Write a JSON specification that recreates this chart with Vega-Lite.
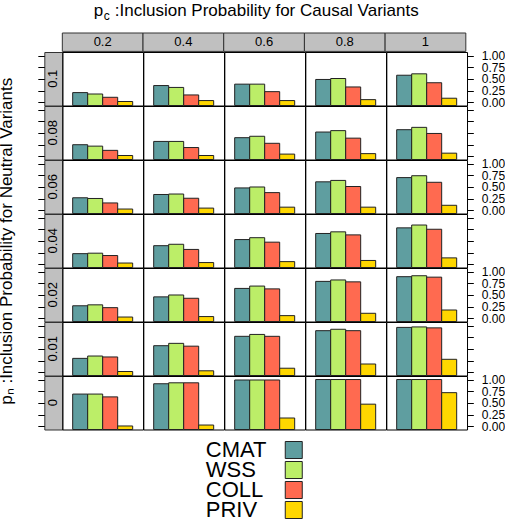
{
"$schema": "https://vega.github.io/schema/vega-lite/v6.json",
"padding": {"left": -4, "top": 2, "right": 0, "bottom": 0},
"datasets": {
"bars": [
{"pn":"0.1","pc":"0.2","m":"CMAT","v":0.21},{"pn":"0.1","pc":"0.2","m":"WSS","v":0.18},{"pn":"0.1","pc":"0.2","m":"COLL","v":0.11},{"pn":"0.1","pc":"0.2","m":"PRIV","v":0.02},
{"pn":"0.1","pc":"0.4","m":"CMAT","v":0.36},{"pn":"0.1","pc":"0.4","m":"WSS","v":0.32},{"pn":"0.1","pc":"0.4","m":"COLL","v":0.16},{"pn":"0.1","pc":"0.4","m":"PRIV","v":0.04},
{"pn":"0.1","pc":"0.6","m":"CMAT","v":0.39},{"pn":"0.1","pc":"0.6","m":"WSS","v":0.39},{"pn":"0.1","pc":"0.6","m":"COLL","v":0.23},{"pn":"0.1","pc":"0.6","m":"PRIV","v":0.04},
{"pn":"0.1","pc":"0.8","m":"CMAT","v":0.49},{"pn":"0.1","pc":"0.8","m":"WSS","v":0.51},{"pn":"0.1","pc":"0.8","m":"COLL","v":0.33},{"pn":"0.1","pc":"0.8","m":"PRIV","v":0.06},
{"pn":"0.1","pc":"1","m":"CMAT","v":0.58},{"pn":"0.1","pc":"1","m":"WSS","v":0.61},{"pn":"0.1","pc":"1","m":"COLL","v":0.42},{"pn":"0.1","pc":"1","m":"PRIV","v":0.09},
{"pn":"0.08","pc":"0.2","m":"CMAT","v":0.25},{"pn":"0.08","pc":"0.2","m":"WSS","v":0.22},{"pn":"0.08","pc":"0.2","m":"COLL","v":0.13},{"pn":"0.08","pc":"0.2","m":"PRIV","v":0.02},
{"pn":"0.08","pc":"0.4","m":"CMAT","v":0.32},{"pn":"0.08","pc":"0.4","m":"WSS","v":0.32},{"pn":"0.08","pc":"0.4","m":"COLL","v":0.19},{"pn":"0.08","pc":"0.4","m":"PRIV","v":0.02},
{"pn":"0.08","pc":"0.6","m":"CMAT","v":0.40},{"pn":"0.08","pc":"0.6","m":"WSS","v":0.43},{"pn":"0.08","pc":"0.6","m":"COLL","v":0.28},{"pn":"0.08","pc":"0.6","m":"PRIV","v":0.05},
{"pn":"0.08","pc":"0.8","m":"CMAT","v":0.52},{"pn":"0.08","pc":"0.8","m":"WSS","v":0.55},{"pn":"0.08","pc":"0.8","m":"COLL","v":0.39},{"pn":"0.08","pc":"0.8","m":"PRIV","v":0.06},
{"pn":"0.08","pc":"1","m":"CMAT","v":0.57},{"pn":"0.08","pc":"1","m":"WSS","v":0.62},{"pn":"0.08","pc":"1","m":"COLL","v":0.49},{"pn":"0.08","pc":"1","m":"PRIV","v":0.07},
{"pn":"0.06","pc":"0.2","m":"CMAT","v":0.27},{"pn":"0.06","pc":"0.2","m":"WSS","v":0.255},{"pn":"0.06","pc":"0.2","m":"COLL","v":0.16},{"pn":"0.06","pc":"0.2","m":"PRIV","v":0.03},
{"pn":"0.06","pc":"0.4","m":"CMAT","v":0.34},{"pn":"0.06","pc":"0.4","m":"WSS","v":0.35},{"pn":"0.06","pc":"0.4","m":"COLL","v":0.26},{"pn":"0.06","pc":"0.4","m":"PRIV","v":0.05},
{"pn":"0.06","pc":"0.6","m":"CMAT","v":0.48},{"pn":"0.06","pc":"0.6","m":"WSS","v":0.50},{"pn":"0.06","pc":"0.6","m":"COLL","v":0.38},{"pn":"0.06","pc":"0.6","m":"PRIV","v":0.07},
{"pn":"0.06","pc":"0.8","m":"CMAT","v":0.61},{"pn":"0.06","pc":"0.8","m":"WSS","v":0.64},{"pn":"0.06","pc":"0.8","m":"COLL","v":0.51},{"pn":"0.06","pc":"0.8","m":"PRIV","v":0.07},
{"pn":"0.06","pc":"1","m":"CMAT","v":0.70},{"pn":"0.06","pc":"1","m":"WSS","v":0.74},{"pn":"0.06","pc":"1","m":"COLL","v":0.60},{"pn":"0.06","pc":"1","m":"PRIV","v":0.11},
{"pn":"0.04","pc":"0.2","m":"CMAT","v":0.23},{"pn":"0.04","pc":"0.2","m":"WSS","v":0.24},{"pn":"0.04","pc":"0.2","m":"COLL","v":0.19},{"pn":"0.04","pc":"0.2","m":"PRIV","v":0.03},
{"pn":"0.04","pc":"0.4","m":"CMAT","v":0.40},{"pn":"0.04","pc":"0.4","m":"WSS","v":0.43},{"pn":"0.04","pc":"0.4","m":"COLL","v":0.32},{"pn":"0.04","pc":"0.4","m":"PRIV","v":0.04},
{"pn":"0.04","pc":"0.6","m":"CMAT","v":0.53},{"pn":"0.04","pc":"0.6","m":"WSS","v":0.57},{"pn":"0.04","pc":"0.6","m":"COLL","v":0.475},{"pn":"0.04","pc":"0.6","m":"PRIV","v":0.06},
{"pn":"0.04","pc":"0.8","m":"CMAT","v":0.66},{"pn":"0.04","pc":"0.8","m":"WSS","v":0.695},{"pn":"0.04","pc":"0.8","m":"COLL","v":0.63},{"pn":"0.04","pc":"0.8","m":"PRIV","v":0.085},
{"pn":"0.04","pc":"1","m":"CMAT","v":0.78},{"pn":"0.04","pc":"1","m":"WSS","v":0.84},{"pn":"0.04","pc":"1","m":"COLL","v":0.75},{"pn":"0.04","pc":"1","m":"PRIV","v":0.14},
{"pn":"0.02","pc":"0.2","m":"CMAT","v":0.27},{"pn":"0.02","pc":"0.2","m":"WSS","v":0.29},{"pn":"0.02","pc":"0.2","m":"COLL","v":0.23},{"pn":"0.02","pc":"0.2","m":"PRIV","v":0.03},
{"pn":"0.02","pc":"0.4","m":"CMAT","v":0.46},{"pn":"0.02","pc":"0.4","m":"WSS","v":0.50},{"pn":"0.02","pc":"0.4","m":"COLL","v":0.43},{"pn":"0.02","pc":"0.4","m":"PRIV","v":0.04},
{"pn":"0.02","pc":"0.6","m":"CMAT","v":0.64},{"pn":"0.02","pc":"0.6","m":"WSS","v":0.69},{"pn":"0.02","pc":"0.6","m":"COLL","v":0.63},{"pn":"0.02","pc":"0.6","m":"PRIV","v":0.06},
{"pn":"0.02","pc":"0.8","m":"CMAT","v":0.79},{"pn":"0.02","pc":"0.8","m":"WSS","v":0.82},{"pn":"0.02","pc":"0.8","m":"COLL","v":0.78},{"pn":"0.02","pc":"0.8","m":"PRIV","v":0.11},
{"pn":"0.02","pc":"1","m":"CMAT","v":0.89},{"pn":"0.02","pc":"1","m":"WSS","v":0.91},{"pn":"0.02","pc":"1","m":"COLL","v":0.88},{"pn":"0.02","pc":"1","m":"PRIV","v":0.18},
{"pn":"0.01","pc":"0.2","m":"CMAT","v":0.30},{"pn":"0.01","pc":"0.2","m":"WSS","v":0.35},{"pn":"0.01","pc":"0.2","m":"COLL","v":0.33},{"pn":"0.01","pc":"0.2","m":"PRIV","v":0.02},
{"pn":"0.01","pc":"0.4","m":"CMAT","v":0.57},{"pn":"0.01","pc":"0.4","m":"WSS","v":0.62},{"pn":"0.01","pc":"0.4","m":"COLL","v":0.56},{"pn":"0.01","pc":"0.4","m":"PRIV","v":0.035},
{"pn":"0.01","pc":"0.6","m":"CMAT","v":0.77},{"pn":"0.01","pc":"0.6","m":"WSS","v":0.81},{"pn":"0.01","pc":"0.6","m":"COLL","v":0.77},{"pn":"0.01","pc":"0.6","m":"PRIV","v":0.09},
{"pn":"0.01","pc":"0.8","m":"CMAT","v":0.89},{"pn":"0.01","pc":"0.8","m":"WSS","v":0.92},{"pn":"0.01","pc":"0.8","m":"COLL","v":0.89},{"pn":"0.01","pc":"0.8","m":"PRIV","v":0.18},
{"pn":"0.01","pc":"1","m":"CMAT","v":0.96},{"pn":"0.01","pc":"1","m":"WSS","v":0.97},{"pn":"0.01","pc":"1","m":"COLL","v":0.95},{"pn":"0.01","pc":"1","m":"PRIV","v":0.28},
{"pn":"0","pc":"0.2","m":"CMAT","v":0.69},{"pn":"0","pc":"0.2","m":"WSS","v":0.69},{"pn":"0","pc":"0.2","m":"COLL","v":0.63},{"pn":"0","pc":"0.2","m":"PRIV","v":0.01},
{"pn":"0","pc":"0.4","m":"CMAT","v":0.91},{"pn":"0","pc":"0.4","m":"WSS","v":0.93},{"pn":"0","pc":"0.4","m":"COLL","v":0.93},{"pn":"0","pc":"0.4","m":"PRIV","v":0.03},
{"pn":"0","pc":"0.6","m":"CMAT","v":0.99},{"pn":"0","pc":"0.6","m":"WSS","v":0.99},{"pn":"0","pc":"0.6","m":"COLL","v":0.99},{"pn":"0","pc":"0.6","m":"PRIV","v":0.18},
{"pn":"0","pc":"0.8","m":"CMAT","v":1.0},{"pn":"0","pc":"0.8","m":"WSS","v":1.0},{"pn":"0","pc":"0.8","m":"COLL","v":1.0},{"pn":"0","pc":"0.8","m":"PRIV","v":0.475},
{"pn":"0","pc":"1","m":"CMAT","v":1.0},{"pn":"0","pc":"1","m":"WSS","v":1.0},{"pn":"0","pc":"1","m":"COLL","v":1.0},{"pn":"0","pc":"1","m":"PRIV","v":0.72}
]
},
"vconcat": [
{
"columns": 2,
"spacing": 0,
"bounds": "flush",
"align": "each",
"concat": [
{"data": {"values": [{"t": ""}]}, "width": 18, "height": 18.4, "view": {"stroke": null}, "mark": {"type": "text"}, "encoding": {"text": {"field": "t"}}},
{"data": {"values": [{"pc":"0.2"},{"pc":"0.4"},{"pc":"0.6"},{"pc":"0.8"},{"pc":"1"}]},
 "width": 403.5, "height": 18.4, "view": {"stroke": null},
 "encoding": {"x": {"field": "pc", "type": "ordinal", "sort": ["0.2","0.4","0.6","0.8","1"], "scale": {"paddingInner": 0, "paddingOuter": 0}, "axis": null}},
 "layer": [
  {"mark": {"type": "rect", "fill": "#c0c0c0", "stroke": "#333333", "strokeWidth": 1}},
  {"mark": {"type": "text", "fontSize": 13, "baseline": "middle"}, "encoding": {"text": {"field": "pc"}}},
  {"data": {"values": [{"t": "p"}]}, "mark": {"type": "text", "fontSize": 17, "align": "left", "baseline": "alphabetic", "dx": -170.3, "dy": -26}, "encoding": {"x": {"datum": "0.6"}, "text": {"field": "t"}}},
  {"data": {"values": [{"t": "c"}]}, "mark": {"type": "text", "fontSize": 12, "align": "left", "baseline": "alphabetic", "dx": -160.3, "dy": -22}, "encoding": {"x": {"datum": "0.6"}, "text": {"field": "t"}}},
  {"data": {"values": [{"t": ":Inclusion Probability for Causal Variants"}]}, "mark": {"type": "text", "fontSize": 17, "align": "left", "baseline": "alphabetic", "dx": -149.3, "dy": -26}, "encoding": {"x": {"datum": "0.6"}, "text": {"field": "t"}}}
 ]
},
{"data": {"values": [{"pn": "0.1"}]}, "width": 18, "height": 53.5, "view": {"fill": "#c0c0c0", "stroke": "#333333"},
 "mark": {"type": "text", "angle": 270, "fontSize": 13, "baseline": "middle"},
 "encoding": {"text": {"field": "pn"}, "y": {"datum": 0.505, "type": "quantitative", "scale": {"domain": [-0.065, 1.075], "nice": false, "zero": false}, "axis": {"orient": "left", "values": [0, 0.25, 0.5, 0.75, 1], "labels": false, "tickSize": 6.5, "title": null}}}},
{"data": {"name": "bars"}, "transform": [{"filter": "datum.pn === '0.1'"}],
 "facet": {"column": {"field": "pc", "type": "ordinal", "sort": ["0.2","0.4","0.6","0.8","1"], "header": null}}, "spacing": 0, "bounds": "flush",
 "spec": {"width": 80.7, "height": 53.5, "mark": {"type": "bar", "stroke": "#222222", "strokeWidth": 1},
  "encoding": {"x": {"field": "m", "type": "nominal", "sort": ["CMAT","WSS","COLL","PRIV"], "scale": {"paddingInner": 0, "paddingOuter": 0.69}, "axis": null},
   "y": {"field": "v", "type": "quantitative", "scale": {"domain": [-0.065, 1.075], "nice": false, "zero": false}, "axis": {"orient": "right", "values": [0, 0.25, 0.5, 0.75, 1], "format": ".2f", "tickSize": 6, "labelPadding": 8, "labelFontSize": 12, "labelOverlap": false, "title": null}},
   "y2": {"datum": -0.065},
   "color": {"field": "m", "type": "nominal", "scale": {"domain": ["CMAT","WSS","COLL","PRIV"], "range": ["#5F9EA0","#BCEE68","#FF6A50","#FFD700"]}, "legend": null}}}},
{"data": {"values": [{"pn": "0.08"}]}, "width": 18, "height": 53.5, "view": {"fill": "#c0c0c0", "stroke": "#333333"},
 "mark": {"type": "text", "angle": 270, "fontSize": 13, "baseline": "middle"},
 "encoding": {"text": {"field": "pn"}, "y": {"datum": 0.505, "type": "quantitative", "scale": {"domain": [-0.065, 1.075], "nice": false, "zero": false}, "axis": {"orient": "left", "values": [0, 0.25, 0.5, 0.75, 1], "labels": false, "tickSize": 6.5, "title": null}}}},
{"data": {"name": "bars"}, "transform": [{"filter": "datum.pn === '0.08'"}],
 "facet": {"column": {"field": "pc", "type": "ordinal", "sort": ["0.2","0.4","0.6","0.8","1"], "header": null}}, "spacing": 0, "bounds": "flush",
 "spec": {"width": 80.7, "height": 53.5, "mark": {"type": "bar", "stroke": "#222222", "strokeWidth": 1},
  "encoding": {"x": {"field": "m", "type": "nominal", "sort": ["CMAT","WSS","COLL","PRIV"], "scale": {"paddingInner": 0, "paddingOuter": 0.69}, "axis": null},
   "y": {"field": "v", "type": "quantitative", "scale": {"domain": [-0.065, 1.075], "nice": false, "zero": false}, "axis": {"orient": "right", "values": [0, 0.25, 0.5, 0.75, 1], "labels": false, "tickSize": 6, "title": null}},
   "y2": {"datum": -0.065},
   "color": {"field": "m", "type": "nominal", "scale": {"domain": ["CMAT","WSS","COLL","PRIV"], "range": ["#5F9EA0","#BCEE68","#FF6A50","#FFD700"]}, "legend": null}}}},
{"data": {"values": [{"pn": "0.06"}]}, "width": 18, "height": 53.5, "view": {"fill": "#c0c0c0", "stroke": "#333333"},
 "mark": {"type": "text", "angle": 270, "fontSize": 13, "baseline": "middle"},
 "encoding": {"text": {"field": "pn"}, "y": {"datum": 0.505, "type": "quantitative", "scale": {"domain": [-0.065, 1.075], "nice": false, "zero": false}, "axis": {"orient": "left", "values": [0, 0.25, 0.5, 0.75, 1], "labels": false, "tickSize": 6.5, "title": null}}}},
{"data": {"name": "bars"}, "transform": [{"filter": "datum.pn === '0.06'"}],
 "facet": {"column": {"field": "pc", "type": "ordinal", "sort": ["0.2","0.4","0.6","0.8","1"], "header": null}}, "spacing": 0, "bounds": "flush",
 "spec": {"width": 80.7, "height": 53.5, "mark": {"type": "bar", "stroke": "#222222", "strokeWidth": 1},
  "encoding": {"x": {"field": "m", "type": "nominal", "sort": ["CMAT","WSS","COLL","PRIV"], "scale": {"paddingInner": 0, "paddingOuter": 0.69}, "axis": null},
   "y": {"field": "v", "type": "quantitative", "scale": {"domain": [-0.065, 1.075], "nice": false, "zero": false}, "axis": {"orient": "right", "values": [0, 0.25, 0.5, 0.75, 1], "format": ".2f", "tickSize": 6, "labelPadding": 8, "labelFontSize": 12, "labelOverlap": false, "title": null}},
   "y2": {"datum": -0.065},
   "color": {"field": "m", "type": "nominal", "scale": {"domain": ["CMAT","WSS","COLL","PRIV"], "range": ["#5F9EA0","#BCEE68","#FF6A50","#FFD700"]}, "legend": null}}}},
{"data": {"values": [{"pn": "0.04"}]}, "width": 18, "height": 53.5, "view": {"fill": "#c0c0c0", "stroke": "#333333"},
 "mark": {"type": "text", "angle": 270, "fontSize": 13, "baseline": "middle"},
 "encoding": {"text": {"field": "pn"}, "y": {"datum": 0.505, "type": "quantitative", "scale": {"domain": [-0.065, 1.075], "nice": false, "zero": false}, "axis": {"orient": "left", "values": [0, 0.25, 0.5, 0.75, 1], "labels": false, "tickSize": 6.5, "title": "pₙ :Inclusion Probability for Neutral Variants", "titleFontSize": 17, "titleFontWeight": "normal", "titlePadding": 22, "titleLimit": 1000, "titleColor": "black"}}}},
{"data": {"name": "bars"}, "transform": [{"filter": "datum.pn === '0.04'"}],
 "facet": {"column": {"field": "pc", "type": "ordinal", "sort": ["0.2","0.4","0.6","0.8","1"], "header": null}}, "spacing": 0, "bounds": "flush",
 "spec": {"width": 80.7, "height": 53.5, "mark": {"type": "bar", "stroke": "#222222", "strokeWidth": 1},
  "encoding": {"x": {"field": "m", "type": "nominal", "sort": ["CMAT","WSS","COLL","PRIV"], "scale": {"paddingInner": 0, "paddingOuter": 0.69}, "axis": null},
   "y": {"field": "v", "type": "quantitative", "scale": {"domain": [-0.065, 1.075], "nice": false, "zero": false}, "axis": {"orient": "right", "values": [0, 0.25, 0.5, 0.75, 1], "labels": false, "tickSize": 6, "title": null}},
   "y2": {"datum": -0.065},
   "color": {"field": "m", "type": "nominal", "scale": {"domain": ["CMAT","WSS","COLL","PRIV"], "range": ["#5F9EA0","#BCEE68","#FF6A50","#FFD700"]}, "legend": null}}}},
{"data": {"values": [{"pn": "0.02"}]}, "width": 18, "height": 53.5, "view": {"fill": "#c0c0c0", "stroke": "#333333"},
 "mark": {"type": "text", "angle": 270, "fontSize": 13, "baseline": "middle"},
 "encoding": {"text": {"field": "pn"}, "y": {"datum": 0.505, "type": "quantitative", "scale": {"domain": [-0.065, 1.075], "nice": false, "zero": false}, "axis": {"orient": "left", "values": [0, 0.25, 0.5, 0.75, 1], "labels": false, "tickSize": 6.5, "title": null}}}},
{"data": {"name": "bars"}, "transform": [{"filter": "datum.pn === '0.02'"}],
 "facet": {"column": {"field": "pc", "type": "ordinal", "sort": ["0.2","0.4","0.6","0.8","1"], "header": null}}, "spacing": 0, "bounds": "flush",
 "spec": {"width": 80.7, "height": 53.5, "mark": {"type": "bar", "stroke": "#222222", "strokeWidth": 1},
  "encoding": {"x": {"field": "m", "type": "nominal", "sort": ["CMAT","WSS","COLL","PRIV"], "scale": {"paddingInner": 0, "paddingOuter": 0.69}, "axis": null},
   "y": {"field": "v", "type": "quantitative", "scale": {"domain": [-0.065, 1.075], "nice": false, "zero": false}, "axis": {"orient": "right", "values": [0, 0.25, 0.5, 0.75, 1], "format": ".2f", "tickSize": 6, "labelPadding": 8, "labelFontSize": 12, "labelOverlap": false, "title": null}},
   "y2": {"datum": -0.065},
   "color": {"field": "m", "type": "nominal", "scale": {"domain": ["CMAT","WSS","COLL","PRIV"], "range": ["#5F9EA0","#BCEE68","#FF6A50","#FFD700"]}, "legend": null}}}},
{"data": {"values": [{"pn": "0.01"}]}, "width": 18, "height": 53.5, "view": {"fill": "#c0c0c0", "stroke": "#333333"},
 "mark": {"type": "text", "angle": 270, "fontSize": 13, "baseline": "middle"},
 "encoding": {"text": {"field": "pn"}, "y": {"datum": 0.505, "type": "quantitative", "scale": {"domain": [-0.065, 1.075], "nice": false, "zero": false}, "axis": {"orient": "left", "values": [0, 0.25, 0.5, 0.75, 1], "labels": false, "tickSize": 6.5, "title": null}}}},
{"data": {"name": "bars"}, "transform": [{"filter": "datum.pn === '0.01'"}],
 "facet": {"column": {"field": "pc", "type": "ordinal", "sort": ["0.2","0.4","0.6","0.8","1"], "header": null}}, "spacing": 0, "bounds": "flush",
 "spec": {"width": 80.7, "height": 53.5, "mark": {"type": "bar", "stroke": "#222222", "strokeWidth": 1},
  "encoding": {"x": {"field": "m", "type": "nominal", "sort": ["CMAT","WSS","COLL","PRIV"], "scale": {"paddingInner": 0, "paddingOuter": 0.69}, "axis": null},
   "y": {"field": "v", "type": "quantitative", "scale": {"domain": [-0.065, 1.075], "nice": false, "zero": false}, "axis": {"orient": "right", "values": [0, 0.25, 0.5, 0.75, 1], "labels": false, "tickSize": 6, "title": null}},
   "y2": {"datum": -0.065},
   "color": {"field": "m", "type": "nominal", "scale": {"domain": ["CMAT","WSS","COLL","PRIV"], "range": ["#5F9EA0","#BCEE68","#FF6A50","#FFD700"]}, "legend": null}}}},
{"data": {"values": [{"pn": "0"}]}, "width": 18, "height": 53.5, "view": {"fill": "#c0c0c0", "stroke": "#333333"},
 "mark": {"type": "text", "angle": 270, "fontSize": 13, "baseline": "middle"},
 "encoding": {"text": {"field": "pn"}, "y": {"datum": 0.505, "type": "quantitative", "scale": {"domain": [-0.065, 1.075], "nice": false, "zero": false}, "axis": {"orient": "left", "values": [0, 0.25, 0.5, 0.75, 1], "labels": false, "tickSize": 6.5, "title": null}}}},
{"data": {"name": "bars"}, "transform": [{"filter": "datum.pn === '0'"}],
 "facet": {"column": {"field": "pc", "type": "ordinal", "sort": ["0.2","0.4","0.6","0.8","1"], "header": null}}, "spacing": 0, "bounds": "flush",
 "spec": {"width": 80.7, "height": 53.5, "mark": {"type": "bar", "stroke": "#222222", "strokeWidth": 1},
  "encoding": {"x": {"field": "m", "type": "nominal", "sort": ["CMAT","WSS","COLL","PRIV"], "scale": {"paddingInner": 0, "paddingOuter": 0.69}, "axis": null},
   "y": {"field": "v", "type": "quantitative", "scale": {"domain": [-0.065, 1.075], "nice": false, "zero": false}, "axis": {"orient": "right", "values": [0, 0.25, 0.5, 0.75, 1], "format": ".2f", "tickSize": 6, "labelPadding": 8, "labelFontSize": 12, "labelOverlap": false, "title": null}},
   "y2": {"datum": -0.065},
   "color": {"field": "m", "type": "nominal", "scale": {"domain": ["CMAT","WSS","COLL","PRIV"], "range": ["#5F9EA0","#BCEE68","#FF6A50","#FFD700"]}, "legend": null}}}}
]
},
{
"data": {"values": [{"m": "CMAT"}, {"m": "WSS"}, {"m": "COLL"}, {"m": "PRIV"}]},
"width": 137.5, "height": 80, "view": {"stroke": null},
"encoding": {"y": {"field": "m", "type": "nominal", "sort": ["CMAT","WSS","COLL","PRIV"], "scale": {"type": "point", "padding": 0.5}, "axis": null}},
"layer": [
 {"mark": {"type": "text", "fontSize": 22, "align": "left", "baseline": "middle"},
  "encoding": {"x": {"datum": "label", "scale": {"type": "point", "domain": ["label", "swatch"], "padding": 0.28125, "align": 0}, "axis": null}, "text": {"field": "m"}}},
 {"mark": {"type": "square", "size": 289, "filled": true, "opacity": 1, "stroke": "#222222", "strokeWidth": 1},
  "encoding": {"x": {"datum": "swatch"}, "color": {"field": "m", "type": "nominal", "scale": {"domain": ["CMAT","WSS","COLL","PRIV"], "range": ["#5F9EA0","#BCEE68","#FF6A50","#FFD700"]}, "legend": null}}}
]
}
],
"spacing": 6,
"center": true,
"bounds": "full",
"config": {
 "font": "Liberation Sans",
 "view": {"stroke": "black", "strokeWidth": 1},
 "axis": {"labelFont": "Liberation Sans", "titleFont": "Liberation Sans", "tickColor": "black", "labelColor": "black", "domain": false, "grid": false},
 "text": {"font": "Liberation Sans", "color": "black"}
}
}
